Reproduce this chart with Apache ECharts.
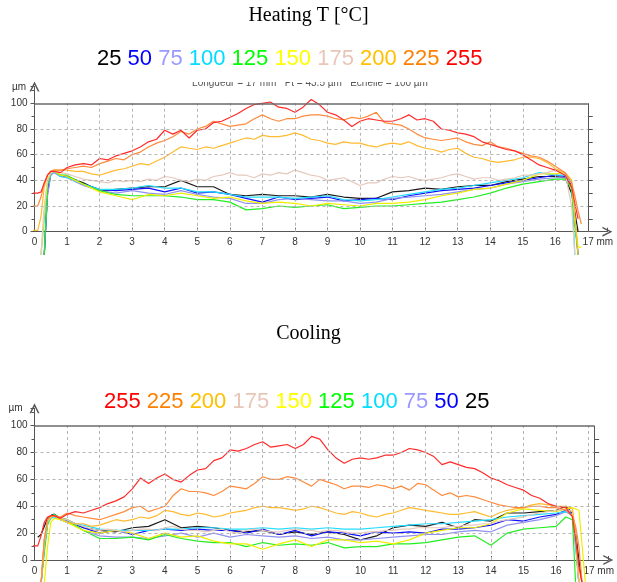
<!DOCTYPE html>
<html><head><meta charset="utf-8">
<script src="https://cdn.jsdelivr.net/npm/echarts@6/dist/echarts.min.js"></script>
<style>html,body{margin:0;padding:0;background:#fff}#c{width:617px;height:582px}</style>
</head><body><div id="c"></div>
<script>
// ---------- DATA ----------
const temps = ['25','50','75','100','125','150','175','200','225','255'];
const tempColors = ['#000000','#0000ff','#9999ff','#00ddff','#00ff00','#ffff00','#e8c6b8','#ffc000','#ff8000','#ff0000'];
const lineColors = ['#1a1a1a','#1010ff','#9090f0','#22ddff','#22ee22','#f0ee00','#e6c9bc','#ffbb30','#ff8a3a','#ff2a2a'];

// Heating panel: positions (mm) — coarse (cluster curves) and fine (upper curves)
const xsHeat = [-1.1,0.1,0.2,0.3,0.4,0.5,0.6,0.8,
  1.0,1.5,2.0,2.5,3.0,3.5,4.0,4.5,5.0,5.5,6.0,6.5,7.0,7.5,8.0,8.5,9.0,9.5,10.0,10.5,11.0,11.5,12.0,12.5,13.0,13.5,14.0,14.5,15.0,15.5,16.0,
  16.3,16.5,16.6,16.7,16.8];
const xsHeatFine = [-1.1,0.1,0.2,0.3,0.4,0.5,0.6,0.8,
  1.0,1.25,1.5,1.75,2.0,2.25,2.5,2.75,3.0,3.25,3.5,3.75,4.0,4.25,4.5,4.75,5.0,5.25,5.5,5.75,6.0,6.25,6.5,6.75,7.0,7.25,7.5,7.75,
  8.0,8.25,8.5,8.75,9.0,9.25,9.5,9.75,10.0,10.25,10.5,10.75,11.0,11.25,11.5,11.75,12.0,12.25,12.5,12.75,13.0,13.25,13.5,13.75,
  14.0,14.25,14.5,14.75,15.0,15.25,15.5,15.75,16.0,
  16.3,16.5,16.6,16.7,16.8];
const heat25  = [null,null,null,-18,30,45,47,44, 43,38,32,33,34,35,35,40,35,35,29,28,29,28,28,27,29,27,26,26,31,32,34,33,35,36,36,39,41,43,43, 42,30,15,0,null];
const heat50  = [null,null,null,-18,32,45,47,43, 43,37,33,32,33,34,31,34,30,31,29,26,23,27,25,26,27,24,25,26,25,28,30,32,33,34,36,38,40,42,44, 43,36,10,-18,null];
const heat75  = [null,null,null,-18,28,44,46,43, 42,36,32,30,32,30,29,32,29,27,26,22,22,25,26,25,24,24,22,23,26,27,28,29,31,33,34,37,39,41,42, 42,35,8,-18,null];
const heat100 = [null,null,-18,10,38,45,47,43, 42,37,33,33,34,36,34,34,31,31,29,27,27,27,26,27,28,25,24,25,27,29,31,33,34,36,38,40,42,46,44, 44,38,-18,null,null];
const heat125 = [null,null,null,-18,36,46,47,44, 44,37,32,29,28,28,28,27,25,25,23,17,18,20,19,20,21,18,19,20,20,21,22,23,25,27,30,34,37,39,41, 41,34,5,-18,null];
const heat150 = [null,null,-18,15,40,46,47,44, 43,37,31,28,25,29,28,30,28,26,27,24,22,23,22,20,22,21,20,22,22,23,25,28,30,33,34,37,40,45,45, 46,40,10,-12,-12];
const heat175 = [null,null,-18,20,40,46,47,46,
  45,43,41,40,39,38,40,39,40,39,41,40,43,42,40,39,41,40,43,44,46,44,44,42,45,44,46,45,
  48,46,44,43,40,41,42,39,36,38,38,41,43,42,43,41,40,41,42,44,45,43,41,42,
  42,40,41,42,44,44,45,46,48,
  46,20,-18,null,null];
const heat200 = [1,1,12,35,44,47,48,48,
  48,47,47,45,44,46,48,49,51,53,52,55,58,62,66,65,64,66,65,67,69,71,73,72,75,74,74,75,
  77,75,72,71,69,68,70,69,69,67,66,68,69,68,70,67,65,64,62,64,65,61,58,57,
  55,54,55,56,58,58,57,54,49,
  46,40,12,-18,null];
const heat225 = [20,20,27,38,44,47,48,48,
  49,50,51,50,53,55,57,56,60,62,66,69,71,74,78,76,80,82,86,84,82,83,84,88,91,88,86,88,
  88,90,91,91,90,88,87,89,88,90,93,85,84,83,80,76,73,72,71,72,73,70,68,67,
  70,66,65,63,61,59,58,55,51,
  46,38,28,16,6];
const heat255 = [30,30,31,38,44,47,47,46,
  50,52,53,52,57,56,59,61,63,66,70,72,79,76,79,73,79,80,85,86,89,92,96,99,100,101,97,96,
  93,97,103,99,93,91,87,82,86,88,87,86,86,88,91,87,88,86,80,79,77,76,74,70,
  68,66,64,63,60,56,52,50,48,
  44,35,22,10,null];

// Cooling panel: positions (mm)
const xsCool = [-1.1,0.1,0.2,0.3,0.4,0.5,0.6,0.8,
  1.0,1.5,2.0,2.5,3.0,3.5,4.0,4.5,5.0,5.5,6.0,6.5,7.0,7.5,8.0,8.5,9.0,9.5,10.0,10.5,11.0,11.5,12.0,12.5,13.0,13.5,14.0,14.5,15.0,15.5,16.0,
  16.3,16.5,16.6,16.7,16.8,16.9];
const xsCoolFine = [-1.1,0.1,0.2,0.3,0.4,0.5,0.6,0.8,
  1.0,1.25,1.5,1.75,2.0,2.25,2.5,2.75,3.0,3.25,3.5,3.75,4.0,4.25,4.5,4.75,5.0,5.25,5.5,5.75,6.0,6.25,6.5,6.75,7.0,7.25,7.5,7.75,
  8.0,8.25,8.5,8.75,9.0,9.25,9.5,9.75,10.0,10.25,10.5,10.75,11.0,11.25,11.5,11.75,12.0,12.25,12.5,12.75,13.0,13.25,13.5,13.75,
  14.0,14.25,14.5,14.75,15.0,15.25,15.5,15.75,16.0,
  16.3,16.5,16.6,16.7,16.8,16.9];
const cool25  = [null,17,19,25,31,33,34,31, 30,24,22,21,24,25,30,24,25,24,22,21,22,19,21,19,21,19,15,18,24,26,25,28,24,30,29,35,35,36,37, 40,35,20,0,-18,null];
const cool50  = [null,null,-18,10,28,33,34,30, 29,24,20,22,19,22,23,22,23,22,22,20,23,19,22,18,21,20,18,21,20,21,20,23,23,24,26,30,29,32,34, 37,34,15,-18,null,null];
const cool75  = [null,null,-18,15,30,33,33,30, 29,22,18,17,17,16,18,20,17,20,17,19,18,17,18,16,17,15,15,16,17,18,19,19,21,22,21,26,28,30,33, 36,33,10,-18,null,null];
const cool100 = [null,null,-18,8,27,31,32,30, 28,26,23,22,22,22,23,23,24,24,23,23,24,23,24,23,24,23,23,24,25,26,27,27,28,29,30,32,33,34,35, 36,34,10,-18,null,null];
const cool125 = [null,null,-18,5,26,32,34,31, 30,22,16,16,17,15,19,16,14,13,13,10,13,11,12,11,13,9,10,10,12,12,13,15,17,18,11,20,23,24,25, 32,30,-18,null,null,null];
const cool150 = [null,null,null,-18,10,28,31,30, 28,22,20,22,20,16,20,17,18,14,12,12,8,12,15,10,15,15,13,14,12,15,20,22,24,24,27,35,38,37,36, 38,39,38,37,10,-18];
const cool175 = [null,null,-18,12,28,32,33,31,
  30,27,25,23,22,23,22,21,22,23,23,22,24,25,23,22,22,21,22,23,21,20,22,23,22,21,21,22,
  23,22,22,21,22,22,21,20,20,21,21,22,22,23,23,24,24,24,24,25,25,26,26,27,
  27,29,30,31,32,34,35,36,37,
  38,36,15,-18,null,null];
const cool200 = [null,null,-18,15,29,32,33,31,
  28,27,27,25,26,28,30,29,30,32,31,33,37,36,34,33,35,34,32,33,35,36,37,39,40,39,39,38,
  37,38,40,39,37,35,34,36,35,33,32,34,35,37,39,38,37,36,35,34,34,35,36,34,
  32,35,37,38,39,41,42,41,40,
  40,38,20,-18,null,null];
const cool225 = [null,null,-18,15,30,33,33,32,
  35,33,32,31,30,32,34,36,39,40,36,38,40,48,53,51,51,50,48,51,55,54,53,57,62,60,60,62,
  61,58,55,60,58,56,53,55,55,54,56,55,53,55,52,57,56,52,48,50,47,48,47,45,
  43,41,40,39,39,40,40,39,39,
  37,33,25,10,-18,null];
const cool255 = [10.5,10.5,18,28,32,33,33,31,
  34,36,35,37,39,42,44,47,53,61,57,61,64,60,58,63,67,68,74,76,82,81,83,86,88,84,85,86,
  83,86,92,90,82,76,72,75,76,75,76,78,78,80,83,82,80,77,71,73,71,69,68,65,
  61,59,56,54,52,48,46,42,40,
  39,32,15,-5,-18,null];

// Axis ticks / grid values
const gridXs = [1,2,3,4,5,6,7,8,9,10,11,12,13,14,15,16,17];
const gridYs = [20,40,60,80];
const borderTicks = [10,20,30,40,50,60,70,80,90];

// ---------- BUILD ----------
const heatSeries = [[heat25,xsHeat],[heat50,xsHeat],[heat75,xsHeat],[heat100,xsHeat],[heat125,xsHeat],[heat150,xsHeat],
  [heat175,xsHeatFine],[heat200,xsHeatFine],[heat225,xsHeatFine],[heat255,xsHeatFine]];
const coolSeries = [[cool25,xsCool],[cool50,xsCool],[cool75,xsCool],[cool100,xsCool],[cool125,xsCool],[cool150,xsCool],
  [cool175,xsCoolFine],[cool200,xsCoolFine],[cool225,xsCoolFine],[cool255,xsCoolFine]];
const font = '"Liberation Sans", Arial, sans-serif';

function richRow(order){
  const rich = {};
  const parts = order.map(t=>{
    const i = temps.indexOf(t);
    rich['c'+i] = {color: tempColors[i], fontSize: 22, fontFamily: font, fontWeight:'normal'};
    return '{c'+i+'|'+t+'}';
  });
  return {text: parts.join(' '), rich};
}
const heatRow = richRow(temps);
const coolRow = richRow(temps.slice().reverse());

function helper(idx, borderX){
  const dash = {type:[3,3], color:'#b5b5b5', width:1};
  const data = [];
  gridXs.forEach(x=>data.push([{coord:[x,0], lineStyle:dash},{coord:[x,100]}]));
  gridYs.forEach(y=>data.push([{coord:[0,y], lineStyle:dash},{coord:[borderX,y]}]));
  data.push([{coord:[0,100], lineStyle:{type:'solid', color:'#6a6a6a', width:1.6}},{coord:[borderX,100]}]);
  data.push([{coord:[borderX,0], lineStyle:{type:'solid', color:'#555', width:1}},{coord:[borderX,100]}]);
  borderTicks.forEach(v=>data.push([{coord:[borderX,v], lineStyle:{type:'solid', color:'#555', width:1}},{coord:[borderX+0.15,v]}]));
  return {type:'line', xAxisIndex:idx, yAxisIndex:idx, data:[[0,0]], symbol:'none', clip:false, z:1,
    lineStyle:{opacity:0}, silent:true, animation:false,
    markLine:{silent:true, symbol:['none','none'], label:{show:false}, animation:false, data}};
}

const arrowPath = 'path://M0,10 L5,0 L10,10 L8.4,10 L5,3.2 L1.6,10 Z';
function xAxisDef(idx){
  return {type:'value', gridIndex:idx, min:0, max:17.6, interval:1,
    axisLine:{show:true, lineStyle:{color:'#555', width:1}, symbol:['none',arrowPath], symbolSize:[10,11]},
    axisTick:{show:true, inside:true, length:4, lineStyle:{color:'#555'}},
    splitLine:{show:false},
    axisLabel:{margin:6, fontSize:10, color:'#333', fontFamily:font,
      formatter:v=> v===17 ? '{m|17 mm}' : (Number.isInteger(v) && v<17 ? String(v) : ''),
      rich:{m:{fontSize:10, color:'#333', fontFamily:font, padding:[0,0,0,20]}}}};
}
function yAxisDef(idx){
  return {type:'value', gridIndex:idx, min:0, max:113, interval:20,
    axisLine:{show:true, lineStyle:{color:'#555', width:1}, symbol:['none',arrowPath], symbolSize:[10,11]},
    axisTick:{show:true, length:4, lineStyle:{color:'#555'}},
    minorTick:{show:true, splitNumber:2, length:3, lineStyle:{color:'#555'}},
    splitLine:{show:false},
    axisLabel:{margin:7, fontSize:10, color:'#333', fontFamily:font,
      formatter:v=> (v%20===0 && v<=100) ? String(v) : ''}};
}

const series = [helper(0,17), helper(1,17.17)];
heatSeries.forEach(([vals,xs],i)=>series.push({type:'line', name:'H'+temps[i], xAxisIndex:0, yAxisIndex:0,
  data: xs.map((x,j)=>[x, vals[j]]), symbol:'none', clip:false, z:2, connectNulls:false,
  lineStyle:{color:lineColors[i], width:1.2}, animation:false}));
coolSeries.forEach(([vals,xs],i)=>series.push({type:'line', name:'C'+temps[i], xAxisIndex:1, yAxisIndex:1,
  data: xs.map((x,j)=>[x, vals[j]]), symbol:'none', clip:false, z:2, connectNulls:false,
  lineStyle:{color:lineColors[i], width:1.2}, animation:false}));

const chart = echarts.init(document.getElementById('c'));
chart.setOption({
  backgroundColor:'#fff',
  animation:false,
  title:[
    {text:'Heating T [°C]', left:'center', top:6, padding:0, textStyle:{fontFamily:'"Liberation Serif", "Times New Roman", serif', fontSize:20, fontWeight:'normal', color:'#000'}},
    {text:heatRow.text, left:97, top:48, padding:0, textStyle:{fontSize:22, fontFamily:font, fontWeight:'normal', rich:heatRow.rich}},
    {text:'Cooling', left:'center', top:324, padding:0, textStyle:{fontFamily:'"Liberation Serif", "Times New Roman", serif', fontSize:20, fontWeight:'normal', color:'#000'}},
    {text:coolRow.text, left:104, top:391, padding:0, textStyle:{fontSize:22, fontFamily:font, fontWeight:'normal', rich:coolRow.rich}}
  ],
  grid:[
    {left:34.5, top:86.6, width:572.9, height:145.1},
    {left:34.5, top:408.2, width:577.3, height:151.8}
  ],
  xAxis:[xAxisDef(0), xAxisDef(1)],
  yAxis:[yAxisDef(0), yAxisDef(1)],
  graphic:[
    {type:'text', x:19, y:87, z:50, style:{text:'µm', font:'10px "Liberation Sans"', fill:'#333', align:'center', verticalAlign:'middle'}},
    {type:'text', x:15.5, y:408, z:50, style:{text:'µm', font:'10px "Liberation Sans"', fill:'#333', align:'center', verticalAlign:'middle'}},
    {type:'text', x:310, y:83, z:50, style:{text:'Longueur = 17 mm   Pt = 43.5 µm   Echelle = 100 µm', font:'10px "Liberation Sans"', fill:'#555', align:'center', verticalAlign:'middle'}},
    {type:'rect', z:51, shape:{x:180, y:71, width:265, height:11}, style:{fill:'#fff'}}
  ],
  series
});
</script>
</body></html>
